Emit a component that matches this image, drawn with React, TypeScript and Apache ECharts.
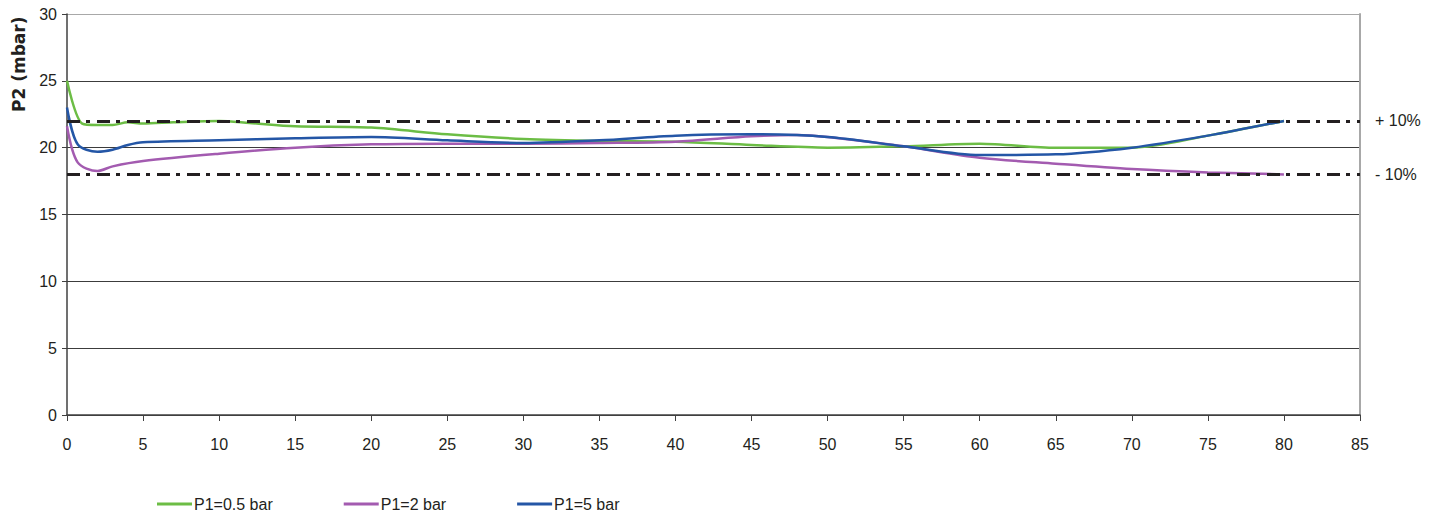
import React, { useEffect, useRef } from "react";
import * as echarts from "echarts";

const seriesNames = ["P1=0.5 bar", "P1=2 bar", "P1=5 bar"];
const seriesColors = ["#6cbd45", "#a35bb0", "#2456a6"];

const greenData: [number, number][] = [
  [0, 25.0], [1, 21.8], [2, 21.7], [3, 21.7], [4, 21.9], [5, 21.8], [7, 21.9],
  [10, 22.0], [12, 21.85], [15, 21.6], [20, 21.5], [25, 21.0], [30, 20.65],
  [35, 20.5], [40, 20.45], [45, 20.2], [50, 20.0], [55, 20.1], [60, 20.3],
  [65, 20.0], [70, 20.0], [75, 20.9], [80, 22.0],
];
const purpleData: [number, number][] = [
  [0, 21.6], [0.7, 18.9], [2, 18.25], [3, 18.6], [5, 19.0], [10, 19.55],
  [15, 20.0], [20, 20.25], [25, 20.3], [30, 20.3], [35, 20.35], [40, 20.45],
  [45, 20.85], [48, 20.95], [50, 20.8], [55, 20.1], [60, 19.25], [65, 18.8],
  [70, 18.4], [75, 18.15], [80, 18.0],
];
const blueData: [number, number][] = [
  [0, 23.0], [0.7, 20.25], [2, 19.7], [3, 19.85], [4, 20.2], [5, 20.4],
  [10, 20.55], [15, 20.7], [20, 20.8], [25, 20.55], [30, 20.35], [35, 20.55],
  [40, 20.9], [45, 21.0], [50, 20.8], [55, 20.1], [60, 19.45], [65, 19.5],
  [70, 20.0], [75, 20.9], [80, 22.0],
];
const allData = [greenData, purpleData, blueData];

const toleranceValues = [22, 18];
const toleranceLabels = ["+ 10%", "- 10%"];

const xMin = 0, xMax = 85, xInterval = 5;
const yMin = 0, yMax = 30, yInterval = 5;
const yAxisTitle = "P2 (mbar)";

const SANS = "'Liberation Sans', Arial, sans-serif";
const TEXT = "#231f20";

export default function App() {
  const ref = useRef<HTMLDivElement>(null);
  useEffect(() => {
    document.body.style.margin = "0";
    const chart = echarts.init(ref.current!, undefined, { renderer: "svg" });
    const splitColors = ["#3c3c3c", "#3c3c3c", "#3c3c3c", "#3c3c3c", "#3c3c3c", "#3c3c3c", "#a8a8a8"];
    chart.setOption({
      animation: false,
      backgroundColor: "#ffffff",
      grid: { left: 67, right: 75, top: 14, bottom: 105, containLabel: false },
      xAxis: {
        type: "value",
        min: xMin,
        max: xMax,
        interval: xInterval,
        axisLine: { show: true, onZero: false, lineStyle: { color: "#404040", width: 1.5 } },
        axisTick: { show: true, length: 6, lineStyle: { color: "#404040" } },
        axisLabel: { color: TEXT, fontFamily: SANS, fontSize: 16, margin: 21 },
        splitLine: { show: false },
      },
      yAxis: [
        {
          type: "value",
          min: yMin,
          max: yMax,
          interval: yInterval,
          axisLine: { show: true, lineStyle: { color: "#404040", width: 1.5 } },
          axisTick: { show: true, length: 5, lineStyle: { color: "#404040" } },
          axisLabel: { color: TEXT, fontFamily: SANS, fontSize: 16, margin: 10 },
          splitLine: { show: true, lineStyle: { color: splitColors, width: 1 } },
        },
        {
          type: "value",
          position: "right",
          min: yMin,
          max: yMax,
          interval: yInterval,
          axisLine: { show: true, lineStyle: { color: "#a8a8a8", width: 2 } },
          axisTick: { show: false },
          axisLabel: { show: false },
          splitLine: { show: false },
        },
      ],
      legend: {
        data: seriesNames,
        left: 157,
        top: 496,
        padding: 0,
        icon: "rect",
        itemWidth: 35,
        itemHeight: 3,
        itemGap: 71,
        textStyle: { color: TEXT, fontFamily: SANS, fontSize: 16, padding: [0, 0, 0, -3] },
      },
      graphic: [
        {
          type: "text",
          x: 10,
          y: 112,
          rotation: Math.PI / 2,
          style: {
            text: yAxisTitle,
            font: "bold 17px 'DejaVu Sans', sans-serif",
            fill: TEXT,
            textVerticalAlign: "top",
          },
        },
      ],
      series: [
        {
          type: "line",
          name: "tolerance",
          data: [],
          silent: true,
          markLine: {
            silent: true,
            symbol: "none",
            lineStyle: { color: TEXT, width: 3, type: [13, 6, 4, 7] },
            label: {
              show: true,
              position: "end",
              distance: 15,
              color: TEXT,
              fontFamily: SANS,
              fontSize: 16,
            },
            data: toleranceValues.map((v, i) => ({
              yAxis: v,
              label: { formatter: toleranceLabels[i] },
            })),
          },
        },
        ...seriesNames.map((name, i) => ({
          type: "line",
          name,
          data: allData[i],
          smooth: 0.3,
          symbol: "none",
          showSymbol: false,
          lineStyle: { color: seriesColors[i], width: 2.5 },
          itemStyle: { color: seriesColors[i] },
          z: 3,
        })),
      ],
    });
    return () => chart.dispose();
  }, []);
  return <div ref={ref} style={{ position: "absolute", left: 0, top: 0, width: 1435, height: 520 }} />;
}
